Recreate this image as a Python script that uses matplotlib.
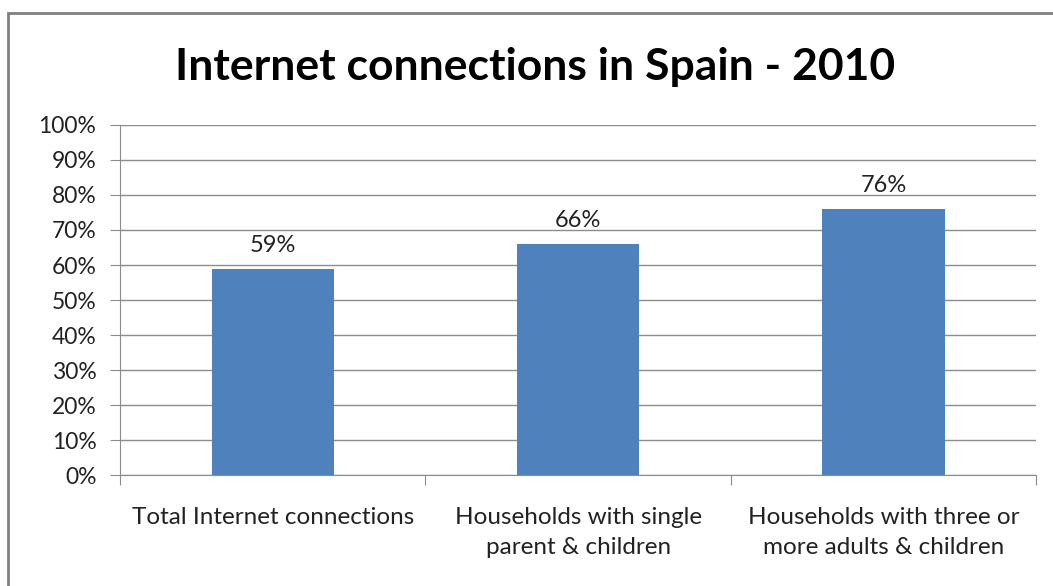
import matplotlib.pyplot as plt
from matplotlib.patches import Rectangle
from matplotlib.ticker import FuncFormatter

plt.rcParams['font.family'] = ['Lato', 'DejaVu Sans']

categories = ["Total Internet connections",
              "Households with single\nparent & children",
              "Households with three or\nmore adults & children"]
values = [59, 66, 76]
yticks = list(range(0, 101, 10))

bar_color = "#4f81bd"
grid_color = "#8c8c8c"
text_color = "#222222"

fig = plt.figure(figsize=(10.53, 5.86), dpi=100)
ax = fig.add_axes([0.114, 0.1894, 0.870, 0.5973])

x = list(range(len(categories)))
bars = ax.bar(x, values, width=0.4, color=bar_color, zorder=3)
for b, v in zip(bars, values):
    ax.annotate(f"{v}%", (b.get_x() + b.get_width() / 2, v),
                xytext=(0, 9), textcoords="offset points",
                ha="center", va="bottom", fontsize=17, color=text_color)

ax.set_ylim(0, 100)
ax.set_xlim(-0.5, len(categories) - 0.5)
ax.set_yticks(yticks)
ax.yaxis.set_major_formatter(FuncFormatter(lambda v, p: f"{v:.0f}%"))
ax.yaxis.grid(True, color=grid_color, linewidth=1, zorder=0)

# category boundaries carry the tick marks, labels sit between them
ax.set_xticks([i - 0.5 for i in range(len(categories) + 1)])
ax.set_xticklabels([])
ax.set_xticks(x, minor=True)
ax.set_xticklabels(categories, minor=True, fontsize=17.5, color=text_color,
                   linespacing=1.55)
ax.tick_params(axis="x", which="minor", length=0, pad=23)
ax.tick_params(axis="x", which="major", length=7, color=grid_color)
ax.tick_params(axis="y", length=7, color=grid_color, labelsize=16.5,
               labelcolor=text_color, pad=10)

for side in ("top", "right"):
    ax.spines[side].set_visible(False)
for side in ("left", "bottom"):
    ax.spines[side].set_color(grid_color)

fig.text(0.508, 0.886, "Internet connections in Spain - 2010",
         ha="center", va="center", fontsize=32, fontweight="bold", color="black")

# outer chart frame
fig.patches.append(Rectangle((7.5 / 1053, -0.05), 1.2, 1 - 13 / 586 + 0.05,
                             transform=fig.transFigure, fill=False,
                             edgecolor="#808080", linewidth=2))

fig.savefig("out.png", dpi=100)
